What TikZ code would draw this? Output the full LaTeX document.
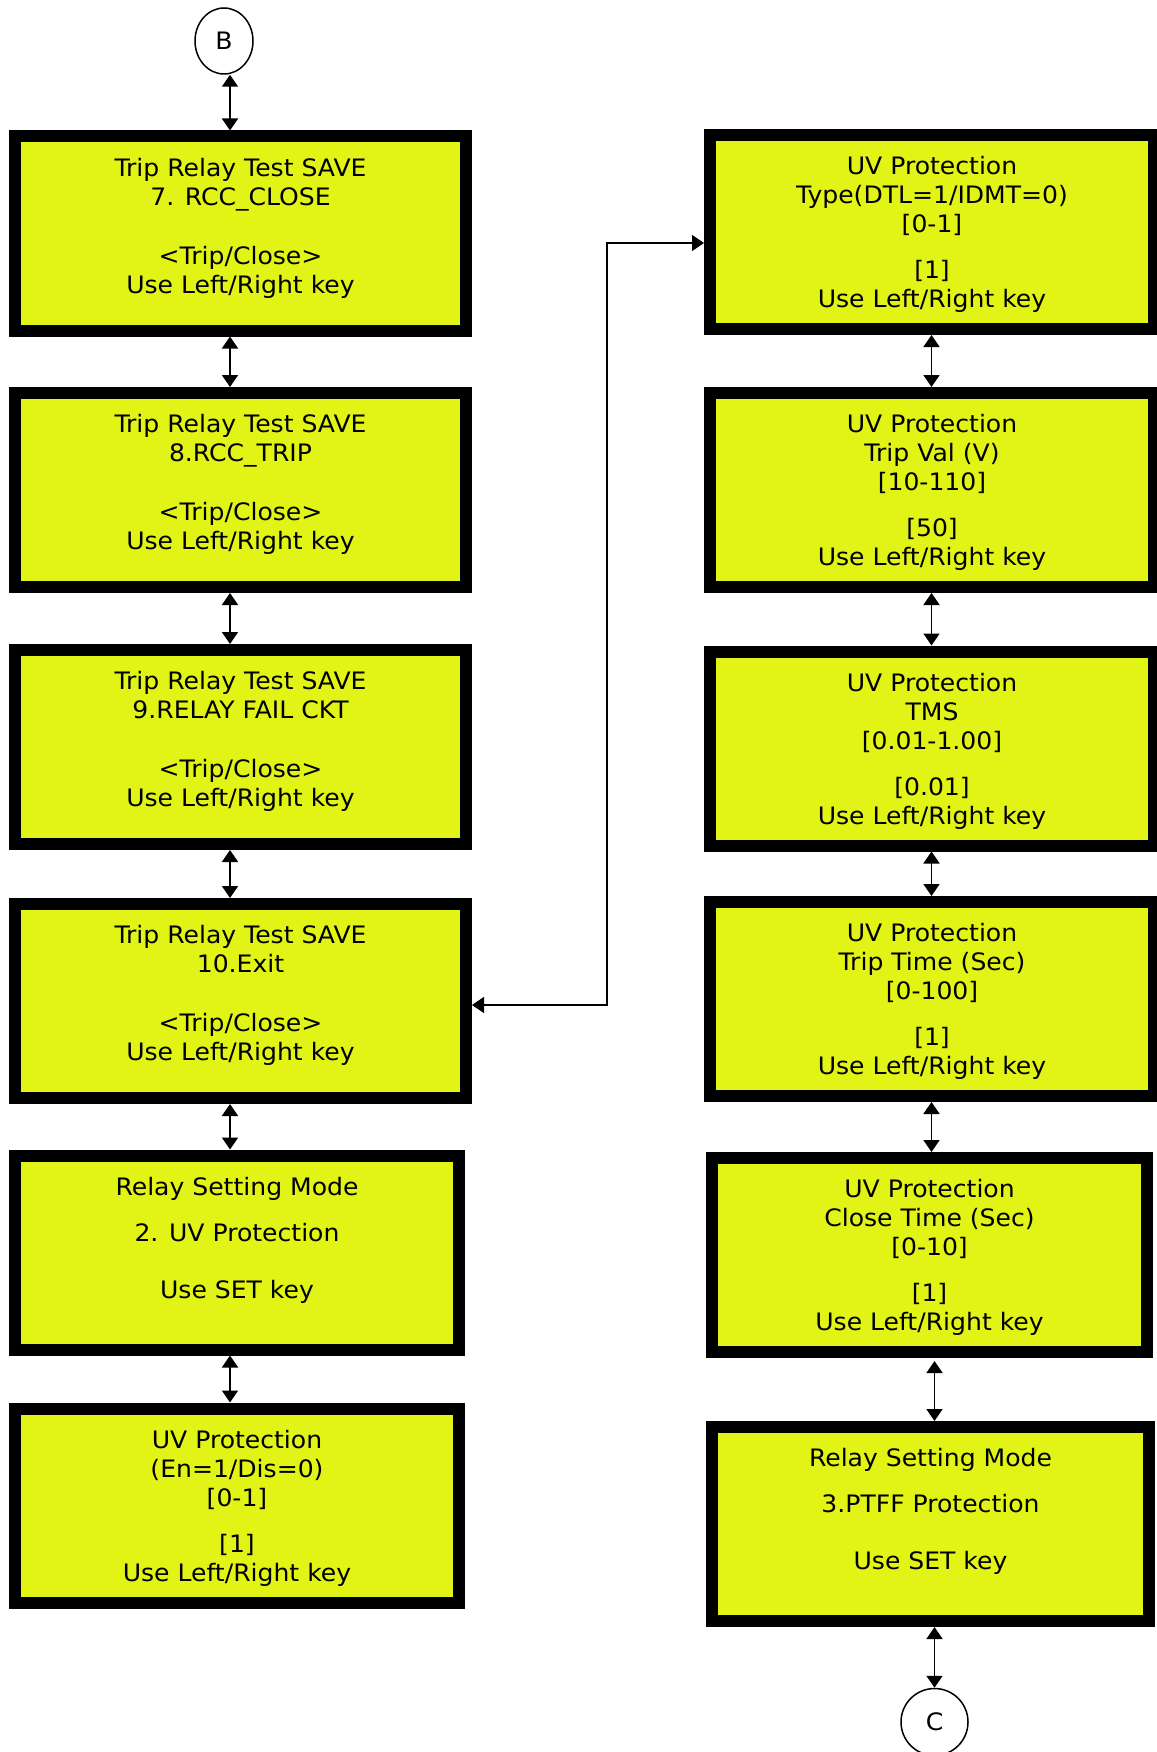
\documentclass[tikz,border=0pt]{standalone}
\usepackage{fontspec}
\setmainfont[FakeStretch=1.045]{DejaVu Sans}
\usepackage{tikz}
\usetikzlibrary{arrows.meta,shapes.geometric}
\definecolor{lcdgreen}{RGB}{225,244,21}
\tikzset{
  dblarrow/.style={{Triangle[length=12pt,width=16pt]}-{Triangle[length=12pt,width=16pt]}, line width=1.8pt},
  lcd/.style={draw, line width=12pt, fill=lcdgreen, inner sep=0pt, align=center, minimum height=194pt, font=\fontsize{24}{29}\selectfont},
  trippage/.style={lcd, minimum width=451pt, execute at end node={\rule[-16pt]{0pt}{0pt}}},
  uvpage/.style={lcd, minimum width=444pt, text depth=-3pt},
  modepage/.style={lcd, minimum width=444pt, execute at end node={\rule[-30pt]{0pt}{0pt}}},
  offpage/.style={draw, ellipse, line width=1.5pt, inner sep=0pt, font=\fontsize{24}{29}\selectfont}
}

\begin{document}
\begin{tikzpicture}[x=1pt, y=-1pt]
  \useasboundingbox (0,0) rectangle (1156,1752);
  \coordinate (laxis) at (230,0);
  \coordinate (raxis) at (931.5,0);

  % left column
  \node[offpage, minimum width=58pt, minimum height=66pt] (conB) at (224,41) {B};
  \node[trippage] (trip7) at (240.5,233.5) {Trip Relay Test SAVE\\7. RCC\_CLOSE\\[30pt]<Trip/Close>\\Use Left/Right key};
  \node[trippage] (trip8) at (240.5,490) {Trip Relay Test SAVE\\8.RCC\_TRIP\\[30pt]<Trip/Close>\\Use Left/Right key};
  \node[trippage] (trip9) at (240.5,747) {Trip Relay Test SAVE\\9.RELAY FAIL CKT\\[30pt]<Trip/Close>\\Use Left/Right key};
  \node[trippage] (trip10) at (240.5,1001) {Trip Relay Test SAVE\\10.Exit\\[30pt]<Trip/Close>\\Use Left/Right key};
  \node[modepage] (uvmode) at (237,1252.5) {Relay Setting Mode\\[17pt]2. UV Protection\\[28pt]Use SET key};
  \node[uvpage] (uven) at (237,1505.5) {UV Protection\\(En=1/Dis=0)\\{[0-1]}\\[17pt]{[1]}\\Use Left/Right key};

  % right column
  \node[uvpage] (uvtype) at (932,232) {UV Protection\\Type(DTL=1/IDMT=0)\\{[0-1]}\\[17pt]{[1]}\\Use Left/Right key};
  \node[uvpage] (uvval) at (932,490) {UV Protection\\Trip Val (V)\\{[10-110]}\\[17pt]{[50]}\\Use Left/Right key};
  \node[uvpage] (uvtms) at (932,748.5) {UV Protection\\TMS\\{[0.01-1.00]}\\[17pt]{[0.01]}\\Use Left/Right key};
  \node[uvpage] (uvtrip) at (932,999) {UV Protection\\Trip Time (Sec)\\{[0-100]}\\[17pt]{[1]}\\Use Left/Right key};
  \node[uvpage, minimum width=435pt] (uvclose) at (929.5,1255) {UV Protection\\Close Time (Sec)\\{[0-10]}\\[17pt]{[1]}\\Use Left/Right key};
  \node[modepage, minimum width=437pt] (ptffmode) at (930.5,1524) {Relay Setting Mode\\[17pt]3.PTFF Protection\\[28pt]Use SET key};
  \node[offpage, minimum width=67pt, minimum height=67pt] (conC) at (934.5,1722) {C};

  \draw[dblarrow] (conB.south -| laxis) -- (trip7.north -| laxis);
  \draw[dblarrow] (trip7.south -| laxis) -- (trip8.north -| laxis);
  \draw[dblarrow] (trip8.south -| laxis) -- (trip9.north -| laxis);
  \draw[dblarrow] (trip9.south -| laxis) -- (trip10.north -| laxis);
  \draw[dblarrow] (trip10.south -| laxis) -- (uvmode.north -| laxis);
  \draw[dblarrow] (uvmode.south -| laxis) -- (uven.north -| laxis);

  \draw[dblarrow] (uvtype.south -| raxis) -- (uvval.north -| raxis);
  \draw[dblarrow] (uvval.south -| raxis) -- (uvtms.north -| raxis);
  \draw[dblarrow] (uvtms.south -| raxis) -- (uvtrip.north -| raxis);
  \draw[dblarrow] (uvtrip.south -| raxis) -- (uvclose.north -| raxis);
  \draw[dblarrow] ([yshift=-3]uvclose.south -| conC) -- (ptffmode.north -| conC);
  \draw[dblarrow] (ptffmode.south -| conC) -- (conC.north);

  % exit back to the UV type screen
  \draw[dblarrow, line width=1.3pt] ([yshift=-4]trip10.east) -- ++(135,0) |- ([yshift=-11]uvtype.west);
\end{tikzpicture}
\end{document}
